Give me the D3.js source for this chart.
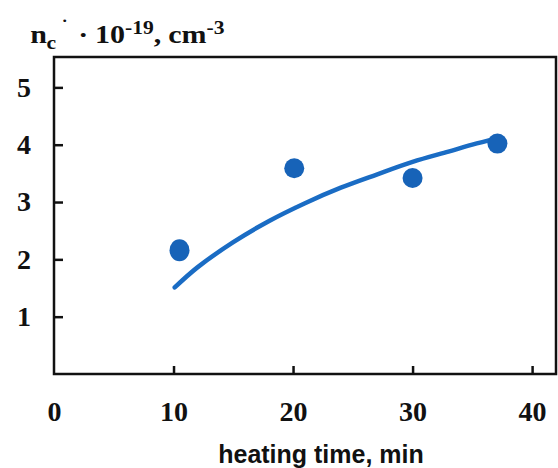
<!DOCTYPE html>
<html>
<head>
<meta charset="utf-8">
<script src="https://cdn.jsdelivr.net/npm/d3@7"></script>
<style>
  body { margin: 0; background: #fff; }
  .tick text { font-family: "Liberation Serif", "Times New Roman", serif; font-weight: bold; font-size: 28px; fill: #111; }
  .tick line { stroke: #111; stroke-width: 2.5; }
</style>
</head>
<body>
<div id="chart"></div>
<script>
// measured points
let times = [10.5, 20.1, 30.0, 37.1]
let conc = [2.16, 3.59, 3.42, 4.02]

// trend curve
let curveTimes = [10.1, 12, 15, 18, 21, 24, 27, 30, 33, 35, 37]
let curveConc = [1.51, 1.86, 2.30, 2.67, 2.98, 3.25, 3.48, 3.70, 3.88, 4.00, 4.11]

let xTicks = [0, 10, 20, 30, 40]
let yTicks = [1, 2, 3, 4, 5]

let W = 558, H = 468
let margin = { top: 57, right: 2, bottom: 94, left: 54 }
let width = W - margin.left - margin.right
let height = H - margin.top - margin.bottom

let svg = d3.select('#chart')
    .append('svg')
    .attr('width', W)
    .attr('height', H)

let g = svg.append('g')
    .attr('transform', `translate(${margin.left}, ${margin.top})`)

let x = d3.scaleLinear()
    .domain([0, 42])
    .range([0, width])

let y = d3.scaleLinear()
    .domain([0, 5.53])
    .range([height, 0])

// y axis, ticks pointing inward
g.append('g')
    .call(d3.axisLeft(y).tickValues(yTicks).tickSize(-9).tickPadding(23).tickFormat(d3.format('d')))
    .call(a => a.select('.domain').remove())

// x axis
g.append('g')
    .attr('transform', `translate(0, ${height})`)
    .call(d3.axisBottom(x).tickValues(xTicks).tickSize(-8).tickPadding(27).tickFormat(d3.format('d')))
    .call(a => a.select('.domain').remove())
    .call(a => a.selectAll('.tick').filter(d => d === 0).select('line').remove())

// frame
g.append('rect')
    .attr('x', 0)
    .attr('y', 0)
    .attr('width', width)
    .attr('height', height)
    .attr('fill', 'none')
    .attr('stroke', '#111')
    .attr('stroke-width', 2.5)

let line = d3.line()
    .x((d, i) => x(curveTimes[i]))
    .y(d => y(d))
    .curve(d3.curveCatmullRom)

g.append('path')
    .datum(curveConc)
    .attr('d', line)
    .attr('fill', 'none')
    .attr('stroke', '#1a6cc4')
    .attr('stroke-width', 4.5)
    .attr('stroke-linecap', 'round')

g.selectAll('.pt')
    .data(times)
    .join('ellipse')
    .attr('class', 'pt')
    .attr('cx', d => x(d))
    .attr('cy', (d, i) => y(conc[i]))
    .attr('rx', 10)
    .attr('ry', (d, i) => i === 0 ? 11 : 10)
    .attr('fill', '#1763b8')

// x title
svg.append('text')
    .attr('x', 321)
    .attr('y', 463)
    .attr('text-anchor', 'middle')
    .style('font-family', '"Liberation Sans", Arial, sans-serif')
    .style('font-weight', 'bold')
    .style('font-size', '25px')
    .style('fill', '#111')
    .text('heating time, min')

// y title, a bit stretched sideways like the original
let yt = svg.append('text')
    .attr('transform', 'translate(29, 0) scale(1.2, 1)')
    .style('font-family', '"Liberation Serif", "Times New Roman", serif')
    .style('font-weight', 'bold')
    .style('fill', '#111')

let parts = [
    { t: 'n', x: 1, y: 43, s: 25 },
    { t: 'c', x: 14.5, y: 49, s: 18 },
    { t: '\u02D9', x: 27, y: 31, s: 16 },
    { t: '\u00B7', x: 41, y: 43, s: 25 },
    { t: '10', x: 55, y: 43, s: 25 },
    { t: '-19', x: 80, y: 34, s: 18 },
    { t: ',', x: 104, y: 43, s: 25 },
    { t: 'cm', x: 116, y: 43, s: 25 },
    { t: '-3', x: 148, y: 34, s: 18 },
]
yt.selectAll('tspan')
    .data(parts)
    .join('tspan')
    .attr('x', d => d.x)
    .attr('y', d => d.y)
    .style('font-size', d => d.s + 'px')
    .text(d => d.t)
</script>
</body>
</html>
